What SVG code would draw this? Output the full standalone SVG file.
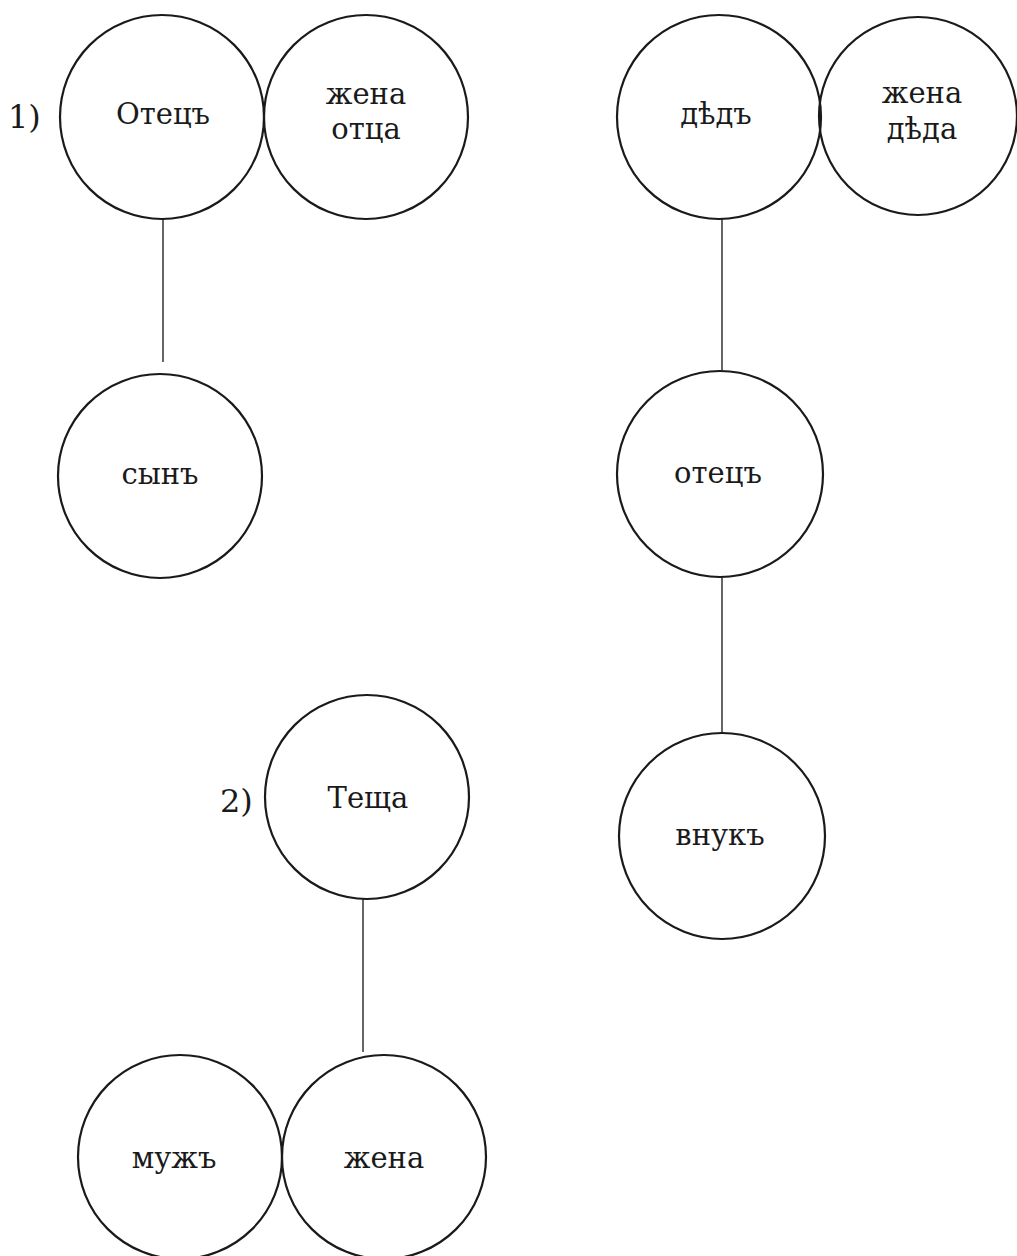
<svg xmlns="http://www.w3.org/2000/svg" width="1017" height="1256" viewBox="0 0 1017 1256">
<style>
.n{fill:none;stroke:#1a1a1a;stroke-width:2.2}
.t{font-family:"DejaVu Serif","Liberation Serif",serif;font-size:29px;fill:#1a1a1a;text-anchor:middle}
.num{font-family:"DejaVu Serif","Liberation Serif",serif;font-size:32px;fill:#1a1a1a}
.c{stroke:#333;stroke-width:1.5}
</style>
<rect width="1017" height="1256" fill="#ffffff"/>
<g id="connectors">
<line class="c" x1="163" y1="219" x2="163" y2="362"/>
<line class="c" x1="722" y1="219" x2="722" y2="370"/>
<line class="c" x1="722" y1="577" x2="722" y2="733"/>
<line class="c" x1="363" y1="899" x2="363" y2="1052"/>
</g>
<g id="label1"><text class="num" x="8" y="128">1)</text></g>
<g id="label2"><text class="num" x="220" y="812">2)</text></g>
<g id="otets1"><circle class="n" cx="162" cy="117" r="102"/><text class="t" x="163" y="124">Отецъ</text></g>
<g id="zhena-ottsa"><circle class="n" cx="366" cy="117" r="102"/><text class="t" x="366" y="104">жена</text><text class="t" x="366" y="139">отца</text></g>
<g id="ded"><circle class="n" cx="719" cy="117" r="102"/><text class="t" x="716" y="124">дѣдъ</text></g>
<g id="zhena-deda"><circle class="n" cx="918" cy="116" r="99"/><text class="t" x="922" y="103">жена</text><text class="t" x="922" y="139">дѣда</text></g>
<g id="syn"><circle class="n" cx="160" cy="476" r="102"/><text class="t" x="160" y="484">сынъ</text></g>
<g id="otets2"><circle class="n" cx="720" cy="474" r="103"/><text class="t" x="718" y="483">отецъ</text></g>
<g id="vnuk"><circle class="n" cx="722" cy="836" r="103"/><text class="t" x="720" y="845">внукъ</text></g>
<g id="teshcha"><circle class="n" cx="367" cy="797" r="102"/><text class="t" x="368" y="808">Теща</text></g>
<g id="muzh"><circle class="n" cx="180" cy="1157" r="102"/><text class="t" x="174" y="1168">мужъ</text></g>
<g id="zhena"><circle class="n" cx="384" cy="1157" r="102"/><text class="t" x="384" y="1168">жена</text></g>
</svg>
